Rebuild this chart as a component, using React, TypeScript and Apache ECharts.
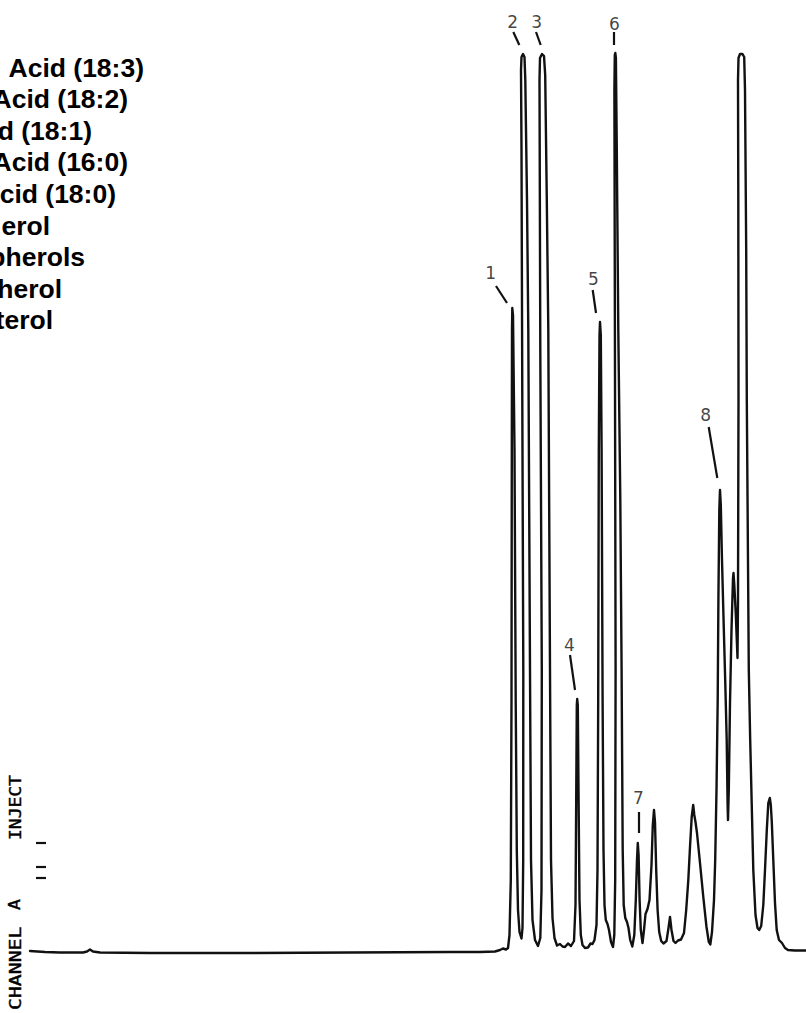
import React, { useEffect, useRef } from "react";
import * as echarts from "echarts";

// Chromatogram trace: retention time (min) and detector response (counts above baseline)
const retentionTime = [
  3.0, 4.5, 6.0, 8.3, 8.7, 9.0, 9.3, 10.0, 15.0, 25.0, 35.0, 45.0, 48.0, 49.5, 50.0, 50.3, 50.6, 50.8,
  50.95, 51.08, 51.15, 51.18, 51.2, 51.23, 51.3, 51.45, 51.57, 51.68, 51.8, 51.95, 52.15,
  52.25, 52.32, 52.33, 52.23, 52.15, 52.1, 52.15, 52.3, 52.45, 52.53, 52.7, 52.83, 53.0, 53.1, 53.25, 53.5, 53.8,
  54.03, 54.15, 54.18, 54.03, 53.95, 54.0, 54.2, 54.4, 54.52, 54.68, 54.83, 55.0, 55.1, 55.25, 55.45, 55.7, 56.0, 56.25, 56.5, 56.8, 57.1,
  57.4, 57.55, 57.62, 57.68, 57.72, 57.78, 57.86, 57.95, 58.08, 58.25, 58.5, 58.8, 59.05, 59.25, 59.45,
  59.65, 59.75, 59.82, 59.88, 59.95, 60.0, 60.08, 60.16, 60.26, 60.35, 60.45, 60.58, 60.75, 60.9, 61.1, 61.3,
  61.43, 61.52, 61.56, 61.49, 61.44, 61.48, 61.53, 61.59, 61.68, 61.83, 62.03, 62.16, 62.27, 62.37, 62.53, 62.7, 62.85, 63.02, 63.23,
  63.43, 63.58, 63.7, 63.78, 63.86, 63.96, 64.08, 64.25, 64.4, 64.55, 64.75, 64.95, 65.15, 65.28, 65.4, 65.5, 65.62, 65.76, 65.92, 66.12,
  66.35, 66.65, 66.85, 67.0, 67.15, 67.35, 67.55, 67.8, 68.1, 68.4, 68.62, 68.83, 69.0, 69.17, 69.32, 69.43, 69.55, 69.7, 70.0, 70.33,
  70.65, 70.88, 71.03, 71.2,
  71.4, 71.52, 71.65, 71.77, 71.84, 71.93, 72.0, 72.08, 72.2, 72.33, 72.52, 72.67, 72.76, 72.8, 72.88, 73.0, 73.15, 73.3, 73.35, 73.43,
  73.57, 73.68, 73.75,
  73.8, 73.85, 73.83, 73.8, 73.85, 74.0, 74.25, 74.42, 74.5, 74.62, 74.68, 74.88, 75.02, 75.17, 75.33, 75.55, 75.75, 75.92, 76.12, 76.33,
  76.5, 76.68, 76.83, 76.98, 77.08, 77.18, 77.33, 77.5, 77.67, 77.9, 78.2, 78.5, 78.8, 79.5, 80.6,
];
const detectorResponse = [
  0, -1, -1.5, -1.5, -0.5, 1.5, -0.5, -1.5, -2, -2, -1.5, -1, -1, -0.5, 1, 2.5, 1.5, 3,
  16, 71, 251, 501, 621, 643, 636, 501, 251, 101, 41, 19, 12.5,
  23, 91, 281, 551, 801, 881, 894, 897, 894, 871, 751, 621, 281, 91, 31, 11, 5,
  13, 61, 281, 601, 871, 893, 897, 895, 876, 751, 621, 281, 91, 33, 13, 5.5, 7, 4.5, 4, 7.5, 5,
  10, 46, 151, 246, 252, 246, 151, 51, 16, 6, 3, 3.5, 7.5, 7, 11,
  26, 81, 251, 501, 616, 629, 616, 501, 251, 101, 46, 31, 27, 21, 9, 4,
  16, 71, 281, 621, 861, 896, 898, 893, 801, 621, 451, 281, 101, 46, 33, 29, 23, 11, 4.5,
  16, 51, 91, 108, 96, 51, 21, 8, 21, 37, 42, 51, 86, 126, 141, 129, 81, 41, 19, 10,
  7.5, 10, 23, 34, 21, 10, 8, 10.5, 11.5, 18, 41, 71, 104, 134, 146, 136, 129, 118, 88, 54,
  24, 9, 6.5, 19,
  51, 91, 161, 251, 351, 441, 461, 446, 391, 341, 271, 211, 146, 131, 161, 248, 321, 373, 378, 366,
  339, 311, 293,
  351, 551, 751, 871, 893, 897, 897, 894, 861, 701, 551, 281, 211, 148, 81, 36, 23, 21, 25, 46,
  81, 121, 148, 153, 146, 129, 91, 48, 21, 11, 8, 3, 1, 0.5, 0.5,
];

// Peak number annotations (placed in data units)
const peakNumbers = ["1", "2", "3", "4", "5", "6", "7", "8"];
const labelTime = [49.07, 51.27, 53.67, 56.93, 59.33, 61.43, 63.83, 70.57];
const labelResponse = [678, 929, 929, 306, 672, 927, 153, 536];
const leaderStart = [[49.6, 665], [51.33, 919], [53.6, 919], [57.0, 296], [59.27, 661], [61.4, 919], [63.83, 139], [70.87, 524]];
const leaderEnd = [[50.7, 648], [51.93, 906], [54.07, 906], [57.5, 261], [59.6, 638], [61.4, 906], [63.83, 118], [71.73, 473]];

// Peak identification list (left edge of the page crops it)
const legendLines = ["Acid (18:3)", "Acid (18:2)", "d (18:1)", "Acid (16:0)", "cid (18:0)", "erol", "pherols", "herol", "terol"];
const legendRight = [144, 128, 92, 128, 116, 50, 85, 62, 53];

const X_MIN = 0;
const X_MAX = 80.6;
const Y_MIN = -62;
const Y_MAX = 951;

export default function App() {
  const ref = useRef<HTMLDivElement>(null);

  useEffect(() => {
    document.body.style.margin = "0";
    if (!ref.current) return;
    const chart = echarts.init(ref.current, null, { renderer: "svg" });

    const trace = retentionTime.map((t, i) => [t, detectorResponse[i]]);
    const labels = peakNumbers.map((n, i) => ({ name: n, value: [labelTime[i], labelResponse[i]] }));
    const leaders = peakNumbers.map((_, i) => ({ coords: [leaderStart[i], leaderEnd[i]] }));

    const legendGraphics = legendLines.map((txt, i) => ({
      type: "text",
      x: legendRight[i],
      y: 67.5 + 31.6 * i,
      silent: true,
      style: {
        text: txt,
        font: "bold 26.5px 'Liberation Sans', Arial, sans-serif",
        fill: "#000",
        textAlign: "right",
        textVerticalAlign: "middle",
        align: "right",
        verticalAlign: "middle",
      },
    }));

    const vText = (text: string, x: number, y: number, sx: number) => ({
      type: "text",
      x,
      y,
      rotation: Math.PI / 2,
      scaleX: sx,
      silent: true,
      style: {
        text,
        font: "15px 'DejaVu Sans Mono', monospace",
        fill: "#000",
        stroke: "#000",
        lineWidth: 0.4,
        textAlign: "left",
        textVerticalAlign: "middle",
        align: "left",
        verticalAlign: "middle",
      },
    });

    const dash = (y: number) => ({
      type: "line",
      silent: true,
      shape: { x1: 36, y1: y, x2: 46, y2: y },
      style: { stroke: "#111", lineWidth: 2.2 },
    });

    chart.setOption({
      animation: false,
      backgroundColor: "#ffffff",
      grid: { left: 0, right: 0, top: 0, bottom: 0, containLabel: false },
      xAxis: { type: "value", min: X_MIN, max: X_MAX, show: false },
      yAxis: { type: "value", min: Y_MIN, max: Y_MAX, show: false },
      series: [
        {
          type: "line",
          data: trace,
          showSymbol: false,
          symbol: "none",
          clip: true,
          lineStyle: { color: "#111", width: 2.4, join: "round", cap: "round" },
          silent: true,
        },
        {
          type: "lines",
          coordinateSystem: "cartesian2d",
          data: leaders,
          silent: true,
          lineStyle: { color: "#111", width: 2.2, opacity: 1, curveness: 0 },
        },
        {
          type: "scatter",
          data: labels,
          symbol: "circle",
          symbolSize: 0.1,
          itemStyle: { color: "rgba(0,0,0,0)" },
          silent: true,
          label: {
            show: true,
            position: "inside",
            formatter: (p: any) => p.name,
            fontFamily: "'DejaVu Sans', sans-serif",
            fontSize: 17,
            color: "#111",
          },
        },
      ],
      graphic: [
        ...legendGraphics,
        vText("CHANNEL", 16, 1010, 1.32),
        vText("A", 15, 910, 1.2),
        vText("INJECT", 16.5, 840, 1.2),
        dash(843),
        dash(867),
        dash(878),
      ],
    });

    return () => chart.dispose();
  }, []);

  return <div ref={ref} style={{ width: 806, height: 1013 }} />;
}
